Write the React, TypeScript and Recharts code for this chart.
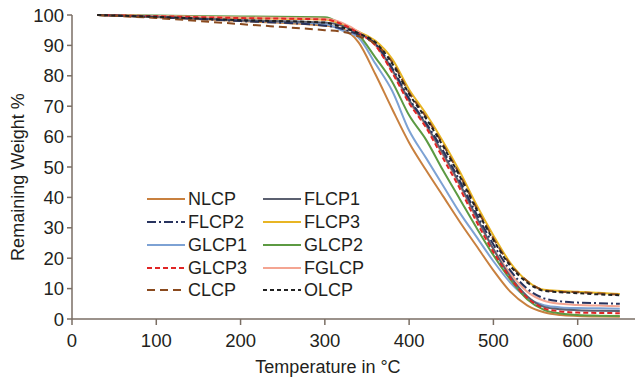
import React from 'react';
import { LineChart, Line, XAxis, YAxis, Legend } from 'recharts';

// temperature grid (°C) shared by all TGA curves
const temperature = [30, 100, 200, 300, 320, 340, 360, 380, 400, 420, 440, 460, 480, 500, 520, 540, 560, 580, 600, 625, 650];

const nlcp = [100, 99.3, 98, 96.5, 95.5, 91, 80.5, 69, 58, 49, 40.5, 32, 24, 16, 9, 4.5, 2.2, 1.3, 1.0, 0.8, 0.7];
const flcp1 = [100, 99.4, 98.3, 97.5, 96.5, 94, 90.5, 82, 72, 64, 54.5, 44.5, 33.5, 23, 14, 7.5, 4, 3.2, 2.9, 2.7, 2.6];
const flcp2 = [100, 99.3, 98, 96.5, 95.5, 93.5, 90.5, 82.5, 72.5, 64.5, 55.5, 45.5, 34.5, 24.5, 16, 10, 6.8, 5.8, 5.4, 5.2, 5.0];
const flcp3 = [100, 99.6, 99, 98.5, 97, 94.5, 91.5, 85.5, 75.5, 67.5, 58.5, 48.5, 37.5, 27.5, 18.5, 12.5, 9.6, 9.2, 9.0, 8.6, 8.2];
const glcp1 = [100, 99.5, 98.3, 97, 95, 92.5, 84, 75, 62, 53, 44, 35, 27, 19, 12, 7, 4.5, 3.8, 3.6, 3.5, 3.4];
const glcp2 = [100, 99.8, 99.5, 99.3, 97, 93.5, 86, 78, 67, 59, 49, 39.5, 30, 21, 13, 6.5, 3, 1.8, 1.3, 1.1, 1.0];
const glcp3 = [100, 99.6, 99, 98.5, 97, 94, 90, 81, 71, 63, 53, 43, 32, 22, 13.5, 7, 3.5, 2.5, 2.1, 2.0, 1.9];
const fglcp = [100, 99.7, 99.2, 98.8, 97.5, 94.5, 90, 81.5, 71.5, 63.5, 54, 44, 33, 23, 15, 9, 6, 5, 4.6, 4.4, 4.2];
const clcp = [100, 99, 97, 95, 94.5, 93, 90.5, 84.5, 74.5, 66.5, 57.5, 47.5, 36.5, 26.5, 18, 12.5, 9.5, 9.0, 8.8, 8.4, 8.0];
const olcp = [100, 99.4, 98.3, 97.5, 96, 94, 91, 84, 74, 66, 57, 47, 36, 26, 17.5, 12, 9.3, 8.8, 8.5, 8.1, 7.8];

const xTicks = [0, 100, 200, 300, 400, 500, 600];
const yTicks = [0, 10, 20, 30, 40, 50, 60, 70, 80, 90, 100];

const series = [
  { key: 'NLCP', values: nlcp, color: '#c8803f', dash: undefined as string | undefined },
  { key: 'FLCP1', values: flcp1, color: '#5b6070', dash: undefined },
  { key: 'FLCP2', values: flcp2, color: '#28335e', dash: '9 3 2 3' },
  { key: 'FLCP3', values: flcp3, color: '#e8b524', dash: undefined },
  { key: 'GLCP1', values: glcp1, color: '#7da2d4', dash: undefined },
  { key: 'GLCP2', values: glcp2, color: '#5c9a42', dash: undefined },
  { key: 'GLCP3', values: glcp3, color: '#e02525', dash: '5 3' },
  { key: 'FGLCP', values: fglcp, color: '#f4a592', dash: undefined },
  { key: 'CLCP', values: clcp, color: '#8a4a1e', dash: '8 5' },
  { key: 'OLCP', values: olcp, color: '#222222', dash: '4 3' },
];

// draw order: solid lines first, dashed cluster on top
const drawOrder = ['NLCP', 'GLCP1', 'GLCP2', 'FLCP3', 'FGLCP', 'FLCP1', 'GLCP3', 'FLCP2', 'CLCP', 'OLCP'];

const data = temperature.map((t, i) => {
  const row: Record<string, number> = { t };
  series.forEach(s => { row[s.key] = s.values[i]; });
  return row;
});

const axisColor = '#7a6e64';
const textColor = '#231f20';

const renderLegend = () => (
  <div style={{ display: 'grid', gridTemplateColumns: '116px 116px', rowGap: 0 }}>
    {series.map(s => (
      <div key={s.key} style={{ display: 'flex', alignItems: 'center', height: 22.75 }}>
        <svg width={38} height={6} style={{ marginRight: 3 }}>
          <line x1={0} y1={3} x2={38} y2={3} stroke={s.color} strokeWidth={2.2} strokeDasharray={s.dash} />
        </svg>
        <span style={{ fontSize: 18, color: textColor, lineHeight: '18px' }}>{s.key}</span>
      </div>
    ))}
  </div>
);

export default function App() {
  return (
    <div style={{ position: 'absolute', left: 0, top: 0, width: 637, height: 381, background: '#fff', fontFamily: '"Liberation Sans", Arial, sans-serif' }}>
      <LineChart width={637} height={381} data={data} margin={{ top: 15, right: 2, bottom: 0, left: 0 }}>
        <XAxis
          type="number"
          dataKey="t"
          domain={[0, 668]}
          ticks={xTicks}
          interval={0}
          height={62}
          stroke={axisColor}
          strokeWidth={1.5}
          tickSize={6}
          tickMargin={9}
          tick={{ fill: textColor, fontSize: 18.5 }}
          label={{
            content: () => (
              <text x={328} y={373} textAnchor="middle" fill={textColor} fontSize={18}>Temperature in °C</text>
            ),
          }}
        />
        <YAxis
          type="number"
          domain={[0, 100]}
          ticks={yTicks}
          interval={0}
          width={72}
          stroke={axisColor}
          strokeWidth={1.5}
          tickSize={5}
          tickMargin={3}
          tick={{ fill: textColor, fontSize: 18.5 }}
          label={{
            content: () => (
              <text x={24} y={177} textAnchor="middle" fill={textColor} fontSize={18} transform="rotate(-90 24 177)">Remaining Weight %</text>
            ),
          }}
        />
        <Legend
          layout="vertical"
          align="center"
          verticalAlign="middle"
          content={renderLegend}
          wrapperStyle={{ left: 147, top: 188, width: 240 }}
        />
        {drawOrder.map(k => {
          const s = series.find(x => x.key === k)!;
          return (
            <Line
              key={s.key}
              type="monotone"
              dataKey={s.key}
              stroke={s.color}
              strokeWidth={2}
              strokeDasharray={s.dash}
              dot={false}
              isAnimationActive={false}
            />
          );
        })}
      </LineChart>
    </div>
  );
}
